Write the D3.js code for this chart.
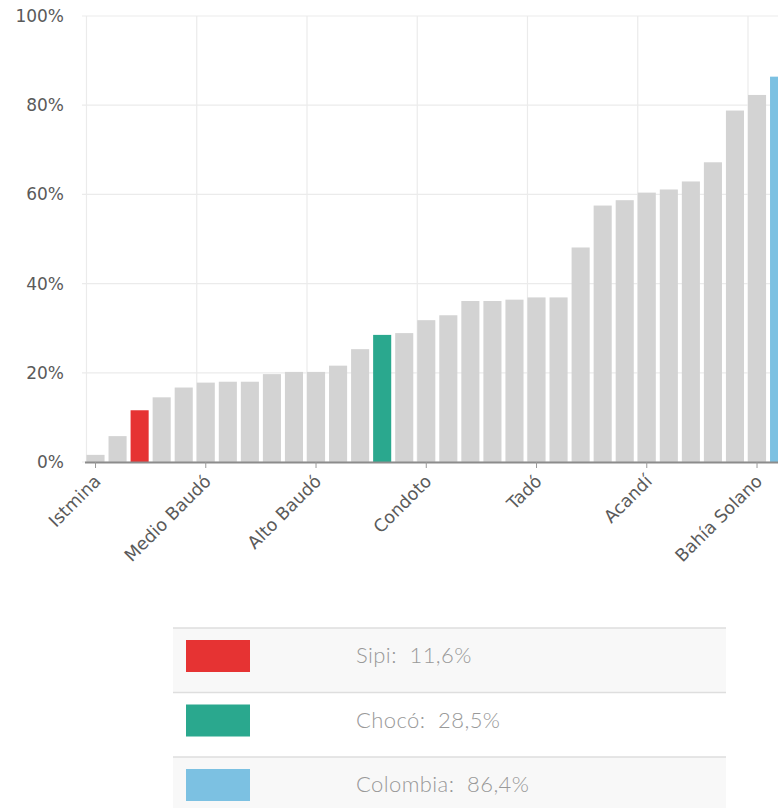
<!DOCTYPE html>
<html>
<head>
<meta charset="utf-8">
<script src="https://cdn.jsdelivr.net/npm/d3@7"></script>
<style>
  body { margin: 0; background: #fff; }
  .axisLabel { font-family: "DejaVu Sans", Verdana, sans-serif; font-size: 17px; fill: #5a5a5a; }
  .xLabel { font-family: "DejaVu Sans", Verdana, sans-serif; font-size: 17.5px; fill: #5a5a5a; }
  .legendText { font-family: Lato, "Open Sans", sans-serif; font-weight: 300; font-size: 22px; fill: #999; white-space: pre; letter-spacing: 0.4px; }
</style>
</head>
<body>
<div id="chart"></div>
<script>
// bar values (% ) left to right
var values = [1.6, 5.8, 11.6, 14.5, 16.7, 17.8, 18.0, 18.0, 19.7, 20.2,
              20.2, 21.6, 25.3, 28.5, 28.9, 31.8, 32.9, 36.1, 36.1, 36.4,
              36.9, 36.9, 48.1, 57.5, 58.7, 60.4, 61.1, 62.9, 67.2, 78.8,
              82.3, 86.4];
// labelled bars on the x axis (index -> name)
var tickIdx = [0, 5, 10, 15, 20, 25, 30];
var tickNames = ["Istmina", "Medio Baudó", "Alto Baudó", "Condoto", "Tadó", "Acandí", "Bahía Solano"];
// highlighted bars
var highlightIdx = [2, 13, 31];
var highlightNames = ["Sipi", "Chocó", "Colombia"];
var highlightValues = [11.6, 28.5, 86.4];
var highlightColors = ["#e63333", "#2aa88e", "#7cc1e2"];
var yTicks = [0, 20, 40, 60, 80, 100];

var W = 778, H = 808;
var step = 22.05;

var svg = d3.select("#chart").append("svg")
  .attr("width", W)
  .attr("height", H);

var x = d3.scaleBand()
  .domain(d3.range(values.length))
  .range([84.5, 84.5 + step * values.length])
  .paddingInner(0.18)
  .paddingOuter(0.09);

var y = d3.scaleLinear()
  .domain([0, 100])
  .range([462, 16]);

// horizontal grid
svg.append("g")
  .selectAll("line")
  .data(yTicks)
  .enter().append("line")
    .attr("x1", 82).attr("x2", W)
    .attr("y1", function(d) { return y(d); })
    .attr("y2", function(d) { return y(d); })
    .attr("stroke", "#ebebeb")
    .attr("stroke-width", 1.2);

// vertical grid at labelled bars
svg.append("g")
  .selectAll("line")
  .data(tickIdx)
  .enter().append("line")
    .attr("x1", function(d) { return x(d); })
    .attr("x2", function(d) { return x(d); })
    .attr("y1", y(100)).attr("y2", y(0))
    .attr("stroke", "#ebebeb")
    .attr("stroke-width", 1.2);

// y labels
svg.append("g")
  .selectAll("text")
  .data(yTicks)
  .enter().append("text")
    .attr("class", "axisLabel")
    .attr("x", 64)
    .attr("y", function(d) { return y(d); })
    .attr("dy", "0.35em")
    .attr("text-anchor", "end")
    .text(function(d) { return d + "%"; });

// bars
svg.selectAll(".bar")
  .data(values)
  .enter().append("rect")
    .attr("class", "bar")
    .attr("x", function(d, i) { return x(i); })
    .attr("width", x.bandwidth())
    .attr("y", function(d) { return y(d); })
    .attr("height", function(d) { return y(0) - y(d); })
    .attr("fill", function(d, i) {
      var k = highlightIdx.indexOf(i);
      return k >= 0 ? highlightColors[k] : "#d3d3d3";
    });

// x axis
var xAxis = svg.append("g")
  .attr("transform", "translate(0," + y(0) + ")")
  .call(d3.axisBottom(x)
    .tickValues(tickIdx)
    .tickSize(6)
    .tickSizeOuter(0)
    .tickFormat(function(d) { return tickNames[tickIdx.indexOf(d)]; }));

xAxis.attr("font-family", null).attr("font-size", null);
xAxis.select(".domain")
  .attr("d", "M85,0.5H" + W)
  .attr("stroke", "#8c8c8c")
  .attr("stroke-width", 2);
xAxis.selectAll(".tick line").attr("stroke", "#999");
xAxis.selectAll(".tick text")
  .attr("class", "xLabel")
  .attr("fill", null)
  .attr("x", 0).attr("y", 0)
  .attr("dy", "0.35em")
  .attr("text-anchor", "end")
  .attr("transform", "translate(2,16) rotate(-45)");

// legend table
var rowTop = 628, rowH = 64.5, legX0 = 173, legX1 = 726;
var rows = svg.append("g").selectAll("g")
  .data(highlightNames)
  .enter().append("g")
    .attr("transform", function(d, i) { return "translate(0," + (rowTop + i * rowH) + ")"; });

rows.append("rect")
  .attr("x", legX0).attr("width", legX1 - legX0)
  .attr("height", rowH)
  .attr("fill", function(d, i) { return i % 2 === 0 ? "#f8f8f8" : "#fff"; });

rows.append("line")
  .attr("x1", legX0).attr("x2", legX1)
  .attr("y1", 0).attr("y2", 0)
  .attr("stroke", "#dedede")
  .attr("stroke-width", 1.5);

rows.append("rect")
  .attr("x", 186).attr("y", 12)
  .attr("width", 64).attr("height", 32)
  .attr("fill", function(d, i) { return highlightColors[i]; });

rows.append("text")
  .attr("class", "legendText")
  .attr("x", 356).attr("y", 35)
  .text(function(d, i) { return d + ":  " + String(highlightValues[i]).replace(".", ",") + "%"; });
</script>
</body>
</html>
